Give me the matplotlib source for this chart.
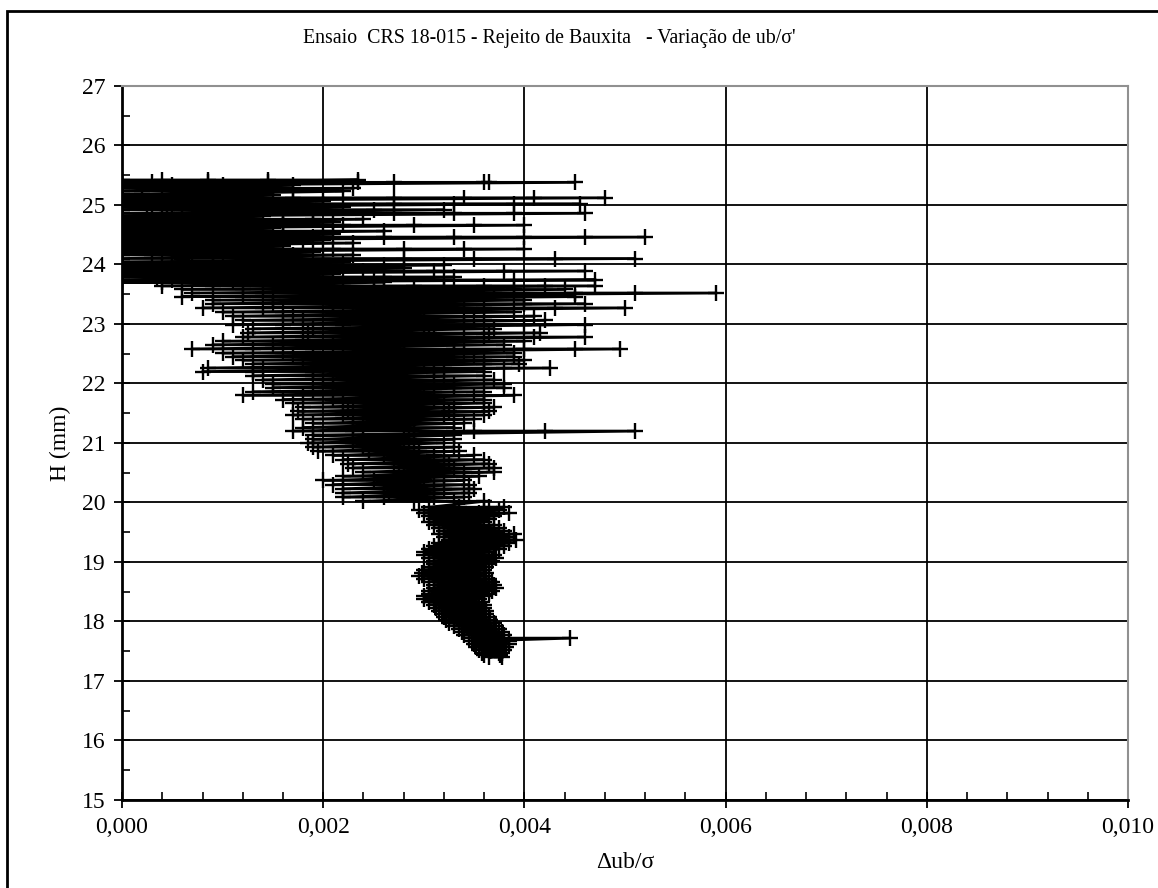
import matplotlib
matplotlib.use("Agg")
import matplotlib.pyplot as plt
from matplotlib.ticker import MultipleLocator, FuncFormatter
from matplotlib.patches import Rectangle

plt.rcParams['font.family'] = ['Liberation Serif', 'DejaVu Serif']

# values, x in units of 1e-3 (du_b/sigma'), H in mm
# upper part: every sweep starts near zero
upper_h = [25.42, 25.38, 25.33, 25.28, 25.23, 25.17, 25.12, 25.07, 25.02, 24.97,
           24.92, 24.86, 24.81, 24.76, 24.71, 24.66, 24.61, 24.56, 24.51, 24.46,
           24.41, 24.36, 24.31, 24.26, 24.21, 24.16, 24.10, 24.04, 23.99, 23.94,
           23.89, 23.84, 23.79, 23.74, 23.70]
upper_x = [
    [0.00, 0.40, 0.85, 1.45, 2.35],
    [0.00, 0.30, 0.85, 1.45, 2.35, 2.70, 3.60, 3.65, 4.50],
    [0.00, 0.50, 1.00, 1.70],
    [0.00, 0.40, 0.90, 1.50, 2.30],
    [0.00, 0.20, 0.60, 1.10, 1.70, 2.20],
    [0.00, 0.50, 1.00, 1.50],
    [0.00, 0.50, 1.00, 1.70, 2.70, 3.40, 4.10, 4.80],
    [0.00, 0.40, 0.90, 1.40, 2.00],
    [0.00, 0.30, 0.80, 1.30, 2.00, 2.70, 3.30, 3.90, 4.55],
    [0.00, 0.50, 1.00, 1.60, 2.20],
    [0.00, 0.45, 0.95, 1.60, 2.50, 3.20],
    [0.00, 0.60, 1.20, 1.90, 2.70, 3.30, 3.90, 4.60],
    [0.00, 0.40, 0.90, 1.40],
    [0.00, 0.25, 0.70, 1.30, 1.90, 2.40],
    [0.00, 0.50, 1.00, 1.60, 2.10],
    [0.00, 0.50, 1.10, 1.60, 2.20, 2.90, 3.50, 4.00],
    [0.00, 0.40, 0.90, 1.50],
    [0.00, 0.40, 0.90, 1.40, 2.00, 2.60],
    [0.00, 0.50, 1.00, 1.60, 2.10],
    [0.00, 0.60, 1.20, 1.90, 2.60, 3.30, 4.00, 4.60, 5.20],
    [0.00, 0.40, 0.90, 1.50, 2.00],
    [0.00, 0.30, 0.80, 1.30, 1.80, 2.30],
    [0.00, 0.50, 1.00, 1.60],
    [0.00, 0.50, 1.00, 1.50, 2.10, 2.80, 3.40, 4.00],
    [0.00, 0.40, 0.90, 1.40, 1.90],
    [0.00, 0.30, 0.70, 1.20, 1.70, 2.30],
    [0.00, 0.60, 1.30, 2.00, 2.80, 3.50, 4.30, 5.10],
    [0.00, 0.50, 1.00, 1.60, 2.20],
    [0.00, 0.40, 0.90, 1.40, 2.00, 2.60, 3.20],
    [0.00, 0.50, 1.00, 1.60, 2.20, 2.80],
    [0.00, 0.50, 1.10, 1.70, 2.40, 3.10, 3.80, 4.60],
    [0.00, 0.40, 0.90, 1.50, 2.10],
    [0.00, 0.35, 0.80, 1.30, 1.90, 2.60, 3.30],
    [0.00, 0.50, 1.10, 1.80, 2.50, 3.20, 3.90, 4.70],
    [0.00, 0.40, 0.90, 1.40, 2.00, 2.60],
]

# middle part: sweeps start further right as H drops
middle_h = [23.64, 23.58, 23.52, 23.46, 23.40, 23.34, 23.27, 23.20, 23.13, 23.06,
            22.99, 22.92, 22.85, 22.78, 22.71, 22.65, 22.58, 22.51, 22.45, 22.39,
            22.33, 22.26, 22.20, 22.13, 22.06, 21.99, 21.93, 21.86, 21.80, 21.73,
            21.67, 21.60, 21.53, 21.47, 21.40, 21.33, 21.26, 21.20, 21.13, 21.06,
            21.00, 20.93, 20.86, 20.79, 20.72, 20.65, 20.58, 20.51, 20.44, 20.37,
            20.30, 20.23, 20.16, 20.09, 20.02]
middle_x = [
    [0.40, 0.90, 1.50, 2.20, 2.90, 3.60, 4.20, 4.70],
    [0.60, 1.20, 1.80, 2.50, 3.20, 3.90, 4.40],
    [0.70, 1.40, 2.10, 2.90, 3.70, 4.50, 5.10, 5.90],
    [0.60, 1.20, 1.80, 2.50, 3.20, 3.90, 4.50],
    [0.90, 1.50, 2.10, 2.80, 3.40, 4.00],
    [0.90, 1.50, 2.10, 2.70, 3.30, 4.00, 4.60],
    [0.80, 1.40, 2.10, 2.80, 3.60, 4.30, 5.00],
    [1.00, 1.60, 2.20, 2.80, 3.40, 3.90],
    [1.10, 1.70, 2.30, 2.90, 3.50, 4.10],
    [1.20, 1.80, 2.40, 3.00, 3.60, 4.20],
    [1.10, 1.60, 2.20, 2.80, 3.40, 4.00, 4.60],
    [1.30, 1.90, 2.50, 3.10, 3.70],
    [1.25, 1.85, 2.45, 3.05, 3.65, 4.15],
    [1.20, 1.80, 2.40, 3.00, 3.60, 4.10, 4.60],
    [1.00, 1.60, 2.20, 2.80, 3.40, 4.00],
    [0.90, 1.50, 2.10, 2.70, 3.30, 3.80],
    [0.70, 1.30, 1.90, 2.60, 3.30, 4.00, 4.50, 4.95],
    [1.00, 1.60, 2.20, 2.80, 3.40, 3.90],
    [1.10, 1.70, 2.30, 2.90, 3.50, 3.90],
    [1.20, 1.80, 2.40, 3.00, 3.60, 4.00],
    [1.30, 1.90, 2.50, 3.10, 3.60, 3.95],
    [0.85, 1.40, 2.00, 2.60, 3.20, 3.80, 4.25],
    [0.80, 1.30, 1.90, 2.50, 3.10, 3.60],
    [1.30, 1.90, 2.50, 3.10, 3.60],
    [1.40, 2.00, 2.60, 3.20, 3.70],
    [1.50, 2.10, 2.70, 3.30, 3.80],
    [1.50, 2.10, 2.70, 3.30, 3.80],
    [1.30, 1.90, 2.50, 3.10, 3.60],
    [1.20, 1.80, 2.40, 3.00, 3.50, 3.90],
    [1.60, 2.10, 2.60, 3.10, 3.60],
    [1.70, 2.20, 2.70, 3.20, 3.60],
    [1.80, 2.30, 2.80, 3.30, 3.70],
    [1.75, 2.25, 2.75, 3.25, 3.65],
    [1.70, 2.20, 2.70, 3.20, 3.60],
    [1.80, 2.30, 2.80, 3.30, 3.50],
    [1.90, 2.40, 2.90, 3.40],
    [1.80, 2.30, 2.80, 3.30],
    [1.70, 2.30, 2.90, 3.50, 4.20, 5.10],
    [1.90, 2.40, 2.90, 3.30],
    [1.90, 2.40, 2.85, 3.30],
    [1.85, 2.30, 2.80, 3.20],
    [1.90, 2.40, 2.90, 3.30],
    [1.95, 2.45, 2.95, 3.35],
    [2.10, 2.60, 3.10, 3.50],
    [2.20, 2.70, 3.20, 3.60],
    [2.25, 2.75, 3.25, 3.65],
    [2.30, 2.80, 3.30, 3.70],
    [2.40, 2.90, 3.40, 3.70],
    [2.20, 2.70, 3.20, 3.55],
    [2.00, 2.50, 3.00, 3.40],
    [2.10, 2.60, 3.10, 3.45],
    [2.20, 2.70, 3.20, 3.50],
    [2.20, 2.65, 3.10, 3.45],
    [2.20, 2.60, 3.10, 3.40],
    [2.40, 2.90, 3.30, 3.60],
]

# lower part: narrow cluster around 0.0030-0.0039
lower_h = [19.92, 19.87, 19.82, 19.77, 19.72, 19.67, 19.62, 19.57, 19.52, 19.47,
           19.42, 19.37, 19.32, 19.27, 19.22, 19.17, 19.12, 19.07, 19.02, 18.97,
           18.92, 18.87, 18.82, 18.77, 18.72, 18.67, 18.62, 18.57, 18.52, 18.47,
           18.42, 18.37, 18.32, 18.27, 18.22, 18.17, 18.12, 18.07, 18.02, 17.97,
           17.92, 17.87, 17.82, 17.77, 17.72, 17.67, 17.62, 17.57, 17.52, 17.47,
           17.43, 17.40]
lower_x = [
    [3.05, 3.35, 3.65, 3.80],
    [2.95, 3.30, 3.60, 3.75],
    [3.00, 3.30, 3.55, 3.85],
    [3.05, 3.35, 3.70],
    [3.10, 3.40, 3.65],
    [3.05, 3.35, 3.60],
    [3.10, 3.40, 3.70],
    [3.15, 3.45, 3.75],
    [3.20, 3.50, 3.80],
    [3.15, 3.50, 3.90],
    [3.20, 3.55, 3.85],
    [3.25, 3.55, 3.92],
    [3.15, 3.50, 3.85],
    [3.10, 3.45, 3.80],
    [3.05, 3.40, 3.75],
    [3.00, 3.30, 3.65],
    [3.00, 3.35, 3.70],
    [3.05, 3.40, 3.72],
    [3.10, 3.40, 3.68],
    [3.10, 3.40, 3.65],
    [3.05, 3.35, 3.62],
    [3.00, 3.30, 3.60],
    [2.98, 3.30, 3.62],
    [2.95, 3.25, 3.60],
    [3.00, 3.30, 3.65],
    [3.05, 3.35, 3.68],
    [3.10, 3.40, 3.70],
    [3.10, 3.45, 3.72],
    [3.05, 3.40, 3.68],
    [3.05, 3.35, 3.65],
    [3.00, 3.30, 3.60],
    [3.00, 3.30, 3.55],
    [3.05, 3.30, 3.58],
    [3.10, 3.35, 3.60],
    [3.12, 3.38, 3.60],
    [3.15, 3.40, 3.62],
    [3.18, 3.42, 3.62],
    [3.20, 3.45, 3.65],
    [3.22, 3.48, 3.66],
    [3.25, 3.50, 3.70],
    [3.30, 3.52, 3.72],
    [3.35, 3.55, 3.75],
    [3.38, 3.58, 3.78],
    [3.40, 3.60, 3.80],
    [3.45, 3.70, 4.45],
    [3.48, 3.68, 3.85],
    [3.50, 3.70, 3.85],
    [3.52, 3.72, 3.82],
    [3.55, 3.75, 3.80],
    [3.58, 3.75, 3.78],
    [3.60, 3.76],
    [3.65, 3.78],
]

xs = []
hs = []
for band_h, band_x in ((upper_h, upper_x), (middle_h, middle_x), (lower_h, lower_x)):
    for h, row in zip(band_h, band_x):
        for v in row:
            xs.append(v / 1000)
            hs.append(h)

fig = plt.figure(figsize=(11.58, 8.88), dpi=100)
ax = fig.add_axes([0.1054, 0.0991, 0.8687, 0.8041])

ax.plot(xs, hs, color='black', lw=2.0, marker='+', ms=11, mew=1.7)

ax.set_xlim(0, 0.010)
ax.set_ylim(15, 27)
ax.xaxis.set_major_locator(MultipleLocator(0.002))
ax.xaxis.set_minor_locator(MultipleLocator(0.0004))
ax.yaxis.set_major_locator(MultipleLocator(1))
ax.yaxis.set_minor_locator(MultipleLocator(0.5))
ax.xaxis.set_major_formatter(FuncFormatter(lambda v, p: f"{v:.3f}".replace('.', ',')))
ax.tick_params(which='major', direction='inout', length=12, width=1.3,
               labelsize=17, pad=6)
ax.tick_params(which='minor', direction='in', length=6, width=1.2)
ax.grid(True, which='major', color='black', lw=1.3)

for side in ('left', 'bottom'):
    ax.spines[side].set_linewidth(2)
for side in ('top', 'right'):
    ax.spines[side].set_color('#909090')
    ax.spines[side].set_linewidth(1.5)

ax.set_xlabel('Δub/σ', fontsize=17, labelpad=10)
ax.set_ylabel('H (mm)', fontsize=17, labelpad=8)
fig.text(0.474, 0.957, "Ensaio  CRS 18-015 - Rejeito de Bauxita   - Variação de ub/σ'",
         ha='center', va='center', fontsize=14.3)

# outer frame of the chart area
fig.patches.append(Rectangle((7 / 1158, -0.05), 1.1, 1 - 11 / 888 + 0.05,
                             transform=fig.transFigure, fill=False,
                             edgecolor='black', lw=2))

fig.savefig('out.png', dpi=100)
